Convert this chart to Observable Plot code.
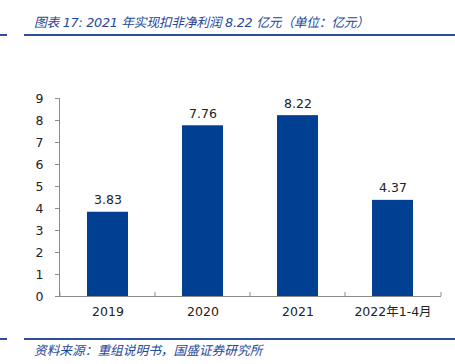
<!DOCTYPE html>
<html>
<head>
<meta charset="utf-8">
<script src="https://cdn.jsdelivr.net/npm/d3@7"></script>
<script src="https://cdn.jsdelivr.net/npm/@observablehq/plot@0.6"></script>
<style>
  html, body { margin: 0; padding: 0; background: #fff; }
  #wrap { position: relative; width: 455px; height: 364px; overflow: hidden; font-family: "DejaVu Sans", "Noto Sans CJK SC", sans-serif; }
  .title { position: absolute; left: 34px; top: 13px; font-size: 12.8px; letter-spacing: -0.3px; font-style: italic; color: #24479a; white-space: pre; line-height: 20px; }
  .rule { position: absolute; height: 2px; background: #2b4f9e; }
  .src { position: absolute; left: 34px; top: 341px; font-size: 12.7px; font-style: italic; color: #24479a; white-space: nowrap; line-height: 18px; font-family: "Noto Sans CJK SC", sans-serif; }
  #chart { position: absolute; left: 0; top: 40px; }
</style>
</head>
<body>
<div id="wrap">
  <div class="title">图表 17: 2021 年实现扣非净利润 8.22 亿元（单位：亿元）</div>
  <div class="rule" style="left:0;width:7px;top:34px"></div>
  <div class="rule" style="left:24px;width:431px;top:34px"></div>
  <div id="chart"></div>
  <div class="rule" style="left:0;width:7px;top:338px"></div>
  <div class="rule" style="left:24px;width:431px;top:338px"></div>
  <div class="src">资料来源：重组说明书，国盛证券研究所</div>
</div>
<script>
const categories = ["2019", "2020", "2021", "2022年1-4月"];
const values = [3.83, 7.76, 8.22, 4.37];
const yTicks = [0, 1, 2, 3, 4, 5, 6, 7, 8, 9];

const data = categories.map((c, i) => ({ cat: c, v: values[i] }));
const axisColor = "#8c8c8c";
const barColor = "#003f91";

const chart = Plot.plot({
  width: 455,
  height: 296,
  marginTop: 58,
  marginBottom: 40,
  marginLeft: 59,
  marginRight: 14,
  style: { fontFamily: "'DejaVu Sans', 'Noto Sans CJK SC', sans-serif", fontSize: "12px", color: "#222", background: "transparent" },
  x: { domain: categories, padding: 0 },
  y: { domain: [0, 9] },
  marks: [
    Plot.barY(data, { x: "cat", y: "v", fill: barColor, insetLeft: 27, insetRight: 27 }),
    Plot.text(data, { x: "cat", y: "v", text: d => d.v.toFixed(2), dy: -8, lineAnchor: "bottom", fill: "#222", fontSize: 12.5 }),
    Plot.axisY({ ticks: yTicks, tickSize: 4, tickPadding: 12, stroke: axisColor, label: null, fontSize: 12.5, fill: "#222" }),
    Plot.axisX({ tickSize: 0, tickPadding: 11, label: null, fontSize: 12.5, fill: "#222" }),
    Plot.ruleX(categories, { x: d => d, y1: 0, y2: 0, insetBottom: 4, dx: -48, stroke: axisColor }),
    Plot.ruleX([categories[categories.length - 1]], { x: d => d, y1: 0, y2: 0, insetBottom: 4, dx: 48, stroke: axisColor }),
    Plot.frame({ anchor: "left", stroke: axisColor }),
    Plot.ruleY([0], { stroke: axisColor })
  ]
});
document.getElementById("chart").appendChild(chart);
</script>
</body>
</html>
